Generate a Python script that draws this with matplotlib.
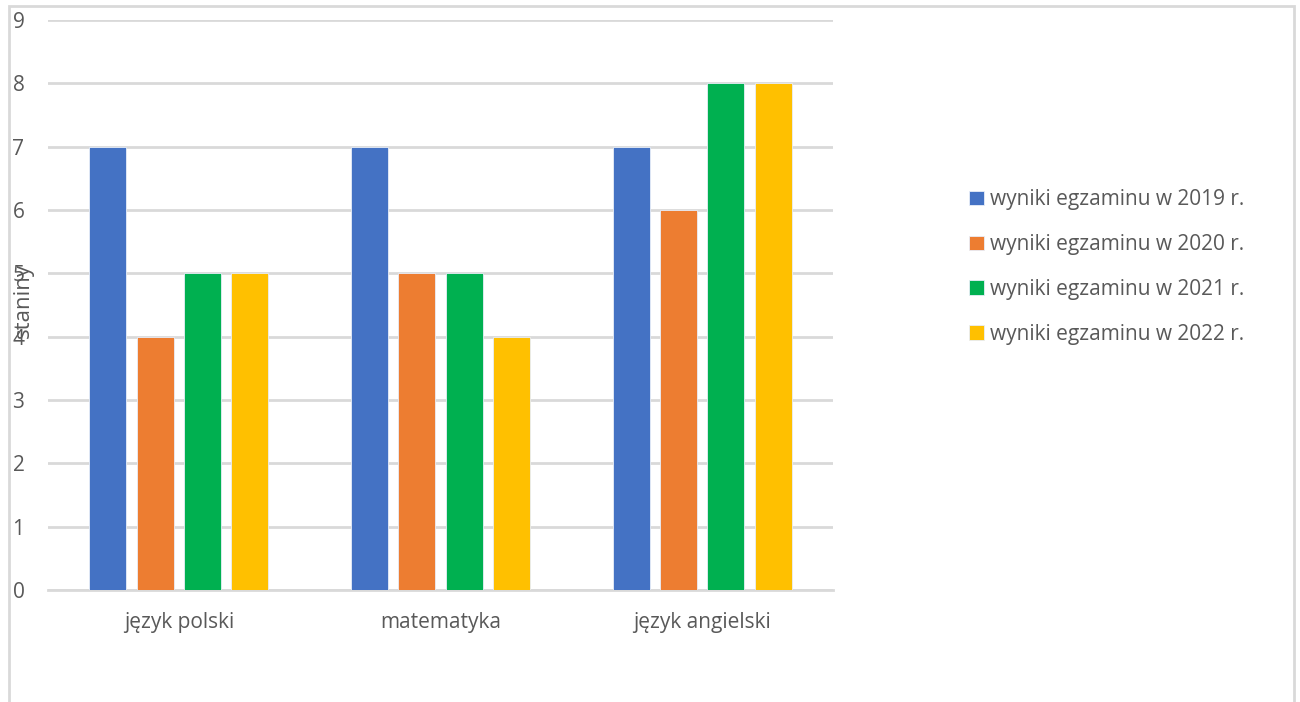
import numpy as np
import matplotlib.pyplot as plt
from matplotlib.patches import Rectangle

plt.rcParams['font.family'] = ['Open Sans', 'DejaVu Sans']

subjects = ['język polski', 'matematyka', 'język angielski']
years = ['wyniki egzaminu w 2019 r.', 'wyniki egzaminu w 2020 r.',
         'wyniki egzaminu w 2021 r.', 'wyniki egzaminu w 2022 r.']
scores_2019 = [7, 7, 7]
scores_2020 = [4, 5, 6]
scores_2021 = [5, 5, 8]
scores_2022 = [5, 4, 8]
colors = ['#4472C4', '#ED7D31', '#00B050', '#FFC000']
grey = '#595959'
fs = 15

fig = plt.figure(figsize=(13, 7.02), dpi=100)
ax = fig.add_axes([48 / 1300, 1 - 590 / 702, 785 / 1300, 570 / 702])

x = np.arange(len(subjects))
width = 0.1416
step = 0.181
series = [scores_2019, scores_2020, scores_2021, scores_2022]
for i, vals in enumerate(series):
    ax.bar(x + (i - 1.5) * step, vals, width, color=colors[i],
           edgecolor='#e8eef8', linewidth=0.6, label=years[i], zorder=3)

ax.set_xlim(-0.5, 2.5)
ax.set_ylim(0, 9)
ax.set_yticks(range(10))
ax.yaxis.grid(True, color='#d9d9d9', linewidth=2, zorder=0)
ax.set_xticks(x)
ax.set_xticklabels(subjects)
ax.tick_params(axis='both', length=0, colors=grey, labelsize=fs)
ax.tick_params(axis='y', pad=17)
ax.tick_params(axis='x', pad=16)
for s in ['top', 'right', 'left']:
    ax.spines[s].set_visible(False)
ax.spines['bottom'].set_color('#d9d9d9')
ax.spines['bottom'].set_linewidth(2)

# y label sits over the tick numbers, as in the original
fig.text(23 / 1300, 1 - 300 / 702, 'staniny', rotation=90, ha='center',
         va='center', color=grey, fontsize=fs + 1)

leg = fig.legend(loc='upper left', bbox_to_anchor=(961 / 1300, 1 - 181 / 702),
                 frameon=False, fontsize=fs, handlelength=0.7, handleheight=0.7,
                 handletextpad=0.3, labelspacing=1.14, borderaxespad=0)
for t in leg.get_texts():
    t.set_color(grey)

fig.patches.append(Rectangle((9 / 1300, -0.1), 1285 / 1300, 1.1 - 6 / 702,
                             transform=fig.transFigure, fill=False,
                             edgecolor='#d9d9d9', linewidth=2))

fig.savefig('out.png', dpi=100)
